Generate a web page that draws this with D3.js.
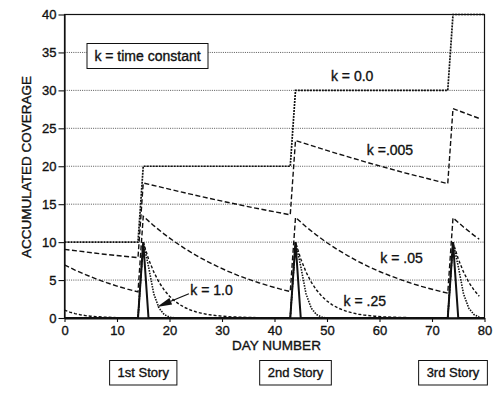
<!DOCTYPE html>
<html><head><meta charset="utf-8">
<script src="https://cdn.jsdelivr.net/npm/d3@7"></script>
<style>
body{margin:0;background:#fff}
text{font-family:"Liberation Sans",Arial,Helvetica,sans-serif;fill:#111;stroke:#111;stroke-width:0.35px}
</style>
</head><body><svg id="c" width="499" height="397"></svg>
<script>
// ---- data ----
const xTicks = [0,10,20,30,40,50,60,70,80];
const yTicks = [0,5,10,15,20,25,30,35,40];

// k = 0.0
const k0Days = [0,14,15,43,44,73,74,80];
const k0Vals = [10,10,20,20,30,30,40,40];

// k = .005
const k005Days = [0,7,14,15,22,29,36,43,44,51,58,65,73,74,79];
const k005Vals = [9.05,8.45,7.95,17.8,16.64,15.55,14.53,13.6,23.4,21.86,20.43,19.1,17.7,27.6,26.3];

// k = .05
const k05Days = [0,2,4,6,8,10,12,14,15,17,19,21,23,25,27,29,31,33,35,37,39,41,43,
                 44,46,48,50,52,54,56,58,60,62,64,66,68,70,72,73,74,76,78,79];
const k05Vals = [7.0,6.32,5.71,5.16,4.66,4.21,3.81,3.45,13.4,12.17,11.05,10.04,9.12,8.28,7.52,6.83,6.2,5.63,5.12,4.65,4.22,3.83,3.48,
                 13.25,12.03,10.93,9.92,9.01,8.19,7.43,6.75,6.13,5.57,5.06,4.59,4.17,3.79,3.44,3.28,13.2,11.99,10.89,10.38];

// k = .25
const k25Days = [0,1,2,3,4,5,6,8,10,12,14,
                 15,16,17,18,19,20,21,22,23,24,25,26,27,28,30,32,35,39,43,
                 44,45,46,47,48,49,50,51,52,53,54,55,56,57,59,61,64,68,73,
                 74,75,76,77,78,79];
const k25Vals = [1.05,0.78,0.58,0.43,0.32,0.24,0.18,0.1,0.05,0.03,0.02,
                 10,7.79,6.07,4.72,3.68,2.87,2.23,1.74,1.35,1.05,0.82,0.64,0.5,0.39,0.24,0.14,0.07,0.03,0.01,
                 10,7.79,6.07,4.72,3.68,2.87,2.23,1.74,1.35,1.05,0.82,0.64,0.5,0.39,0.24,0.14,0.07,0.03,0.01,
                 10,7.79,6.07,4.72,3.68,2.87];

// k = 1.0
const k1Days = [0,14,15,16,17,18,19,20,21,43,44,45,46,47,48,49,50,73,74,75,76,77,78,79];
const k1Vals = [0,0,10,6.8,3.2,1.3,0.45,0.12,0,0,10,6.8,3.2,1.3,0.45,0.12,0,0,10,6.8,3.2,1.3,0.45,0.12];

// daily story coverage (solid spikes)
const storyDays = [0,14,15,16,43,44,45,73,74,75,80];
const storyVals = [0,0,10,0,0,10,0,0,10,0,0];

const storyLabels = ["1st Story","2nd Story","3rd Story"];
const storyCenters = [15,44,74];

const kLabels = ["k = 0.0","k =.005","k = .05","k = .25","k = 1.0"];
const kLabelAt = [[54.8,31.3],[62.0,21.5],[64.2,7.25],[57.2,1.58],[28.0,3.03]];
const arrowFrom = [23.7,3.2], arrowTo = [17.6,1.45];

// ---- drawing ----
const svg = d3.select("#c");
svg.append("rect").attr("width",499).attr("height",397).attr("fill","#fff");
const x = d3.scaleLinear().domain([0,80]).range([64.5,484.5]);
const y = d3.scaleLinear().domain([0,40]).range([318,14.5]);

// gridlines
svg.append("g").selectAll("line").data(yTicks.filter(v=>v>0&&v<40)).join("line")
  .attr("x1",x(0)).attr("x2",x(80)).attr("y1",d=>y(d)).attr("y2",d=>y(d))
  .attr("stroke","#444").attr("stroke-width",0.9).attr("stroke-dasharray","1,1.2");

// frame
svg.append("rect").attr("x",x(0)).attr("y",y(40)).attr("width",x(80)-x(0)).attr("height",y(0)-y(40))
  .attr("fill","none").attr("stroke","#111").attr("stroke-width",1.2);

// axes
const ax = svg.append("g").attr("transform",`translate(0,${y(0)})`)
  .call(d3.axisBottom(x).tickValues(xTicks).tickSize(4).tickPadding(4).tickSizeOuter(0));
ax.select(".domain").attr("stroke","#111").attr("stroke-width",2);
const ay = svg.append("g").attr("transform",`translate(${x(0)},0)`)
  .call(d3.axisLeft(y).tickValues(yTicks).tickSize(6).tickPadding(2).tickSizeOuter(0));
ay.select(".domain").attr("stroke","#111").attr("stroke-width",1.2);
svg.selectAll(".tick line").attr("stroke","#111").attr("stroke-width",1.1);
svg.selectAll(".tick text").style("font-size","13px").style("font-family",'"Liberation Sans",Arial,sans-serif').attr("fill","#111");

// series
const line = d3.line().x(d=>x(d[0])).y(d=>y(d[1]));
const zip = (a,b)=>a.map((d,i)=>[d,b[i]]);
const series = [
  {pts: zip(storyDays,storyVals), dash:null, w:2},
  {pts: zip(k1Days,k1Vals), dash:"1.5,1.2", w:1.6},
  {pts: zip(k25Days,k25Vals), dash:"3,2", w:1.4},
  {pts: zip(k05Days,k05Vals), dash:"5,2.5", w:1.4},
  {pts: zip(k005Days,k005Vals), dash:"5,2.5", w:1.4},
  {pts: zip(k0Days,k0Vals), dash:"2,1", w:1.7},
];
svg.append("g").selectAll("path").data(series).join("path")
  .attr("d",d=>line(d.pts)).attr("fill","none").attr("stroke","#111")
  .attr("stroke-width",d=>d.w).attr("stroke-dasharray",d=>d.dash);

// k labels
svg.append("g").selectAll("text").data(kLabels).join("text")
  .attr("x",(d,i)=>x(kLabelAt[i][0])).attr("y",(d,i)=>y(kLabelAt[i][1]))
  .attr("text-anchor","middle").style("font-size","14px").text(d=>d);

// arrow
const ax0=x(arrowFrom[0]), ay0=y(arrowFrom[1]), ax1=x(arrowTo[0]), ay1=y(arrowTo[1]);
const ang=Math.atan2(ay1-ay0,ax1-ax0), hl=15, hw=3.5;
const bx=ax1-hl*Math.cos(ang), by=ay1-hl*Math.sin(ang);
svg.append("line").attr("x1",ax0).attr("y1",ay0).attr("x2",bx).attr("y2",by).attr("stroke","#111").attr("stroke-width",1.2);
svg.append("path").attr("d",`M${ax1},${ay1}L${bx+hw*Math.sin(ang)},${by-hw*Math.cos(ang)}L${bx-hw*Math.sin(ang)},${by+hw*Math.cos(ang)}Z`).attr("fill","#111");

// "k = time constant" box
svg.append("rect").attr("x",87).attr("y",43.5).attr("width",121).attr("height",25)
  .attr("fill","#fff").attr("stroke","#111").attr("stroke-width",1);
svg.append("text").attr("x",147.5).attr("y",61).attr("text-anchor","middle").style("font-size","14px").text("k = time constant");

// axis titles
svg.append("text").attr("x",276.5).attr("y",350).attr("text-anchor","middle").style("font-size","13.5px").text("DAY NUMBER");
svg.append("text").attr("transform","translate(26,167) rotate(-90)").attr("dy","0.36em").attr("text-anchor","middle")
  .style("font-size","13.5px").text("ACCUMULATED COVERAGE");

// story boxes
storyLabels.forEach((s,i)=>{
  const g = svg.append("g");
  const t = g.append("text").attr("x",x(storyCenters[i])).attr("y",377).attr("text-anchor","middle").style("font-size","13px").text(s);
  const w = t.node().getComputedTextLength()+16;
  g.insert("rect","text").attr("x",x(storyCenters[i])-w/2).attr("y",360.5).attr("width",w).attr("height",24.5)
    .attr("fill","#fff").attr("stroke","#111").attr("stroke-width",1);
});
</script></body></html>
